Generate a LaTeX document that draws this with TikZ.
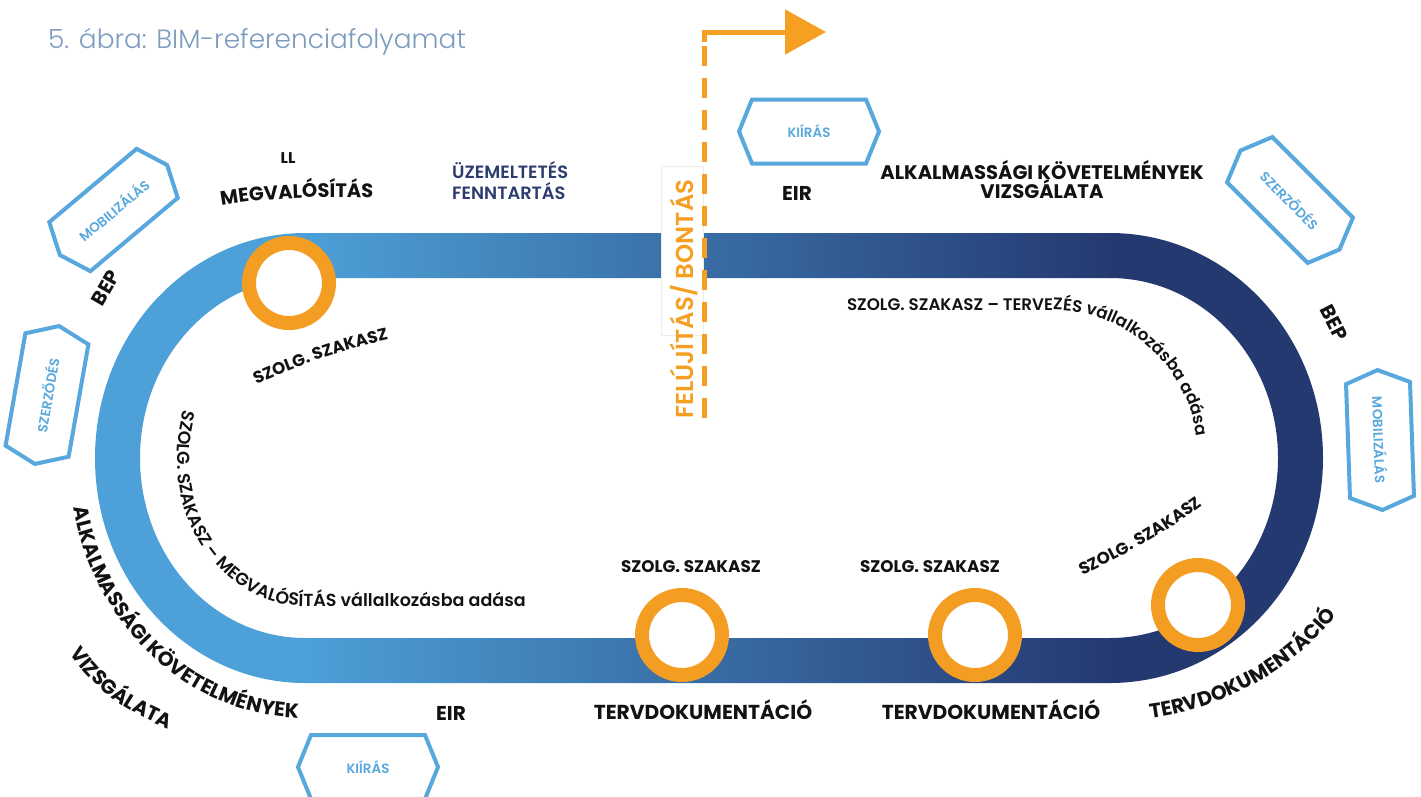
\documentclass[tikz,border=0pt]{standalone}
\usepackage{fontspec}
\usetikzlibrary{decorations.text,arrows.meta}
\IfFontExistsTF{Poppins SemiBold}{\newfontfamily\semib{Poppins SemiBold}}{\IfFontExistsTF{Poppins Bold}{\newfontfamily\semib{Poppins Bold}}{\newfontfamily\semib{Poppins}}}
\IfFontExistsTF{Poppins Bold}{\newfontfamily\boldf{Poppins Bold}}{\newfontfamily\boldf{Poppins SemiBold}}
\IfFontExistsTF{Poppins Light}{\newfontfamily\lightf{Poppins Light}}{\newfontfamily\lightf{Poppins}}
\setmainfont{Poppins}
\definecolor{bandlight}{RGB}{77,160,216}
\definecolor{banddark}{RGB}{37,57,113}
\definecolor{ringorange}{RGB}{243,157,35}
\definecolor{hexblue}{RGB}{88,168,222}
\definecolor{labcol}{RGB}{18,18,18}
\definecolor{navytext}{RGB}{44,60,112}
\definecolor{titlecol}{RGB}{124,156,192}
\definecolor{arrorange}{RGB}{245,160,35}
\newcommand\curvfontR{\semib\fontsize{16.7}{19}\selectfont\color{labcol}}
\newcommand\curvfontL{\semib\fontsize{17.5}{19}\selectfont\color{labcol}}
\newcommand\midlabfont{\boldf\fontsize{16.8}{19}\selectfont\color{labcol}}
\newcommand\biglabfont{\boldf\fontsize{19.6}{21}\selectfont\color{labcol}}
\newcommand\outerfont{\boldf\fontsize{20.2}{22}\selectfont\color{labcol}}
\newcommand\megfont{\boldf\fontsize{19.5}{21}\selectfont\color{labcol}}
\newcommand\tervfont{\boldf\fontsize{20.2}{22}\selectfont\color{labcol}}
\newcommand\hexlabel[4]{%
  \begin{scope}[shift={(#1)},rotate=#2]
    \draw[hexline] (-70,0) -- (-57,-32) -- (57,-32) -- (70,0) -- (57,32) -- (-57,32) -- cycle;
  \end{scope}
  \node[hextext,rotate=#2] (#3) at (#1) {#4};}
\begin{document}
\begin{tikzpicture}[x=1pt,y=-1pt,
  lab/.style={font=\boldf\fontsize{20}{22}\selectfont, text=labcol, inner sep=0pt},
  tervlab/.style={font=\tervfont, text=labcol, inner sep=0pt},
  smalllab/.style={font=\midlabfont, text=labcol, inner sep=0pt},
  hextext/.style={font=\semib\fontsize{13.5}{15}\selectfont, text=hexblue, inner sep=0pt},
  hexline/.style={draw=hexblue, line width=4pt, line join=miter},
  ring/.style={circle, draw=ringorange, fill=white, line width=14pt, minimum size=80pt, inner sep=0pt},
  oline/.style={draw=arrorange, line width=5pt},
]
\fill[white] (0,0) rectangle (1421,796);
\useasboundingbox (0,0) rectangle (1421,796);

% title
\node[anchor=base west, font=\lightf\fontsize{26.4}{30}\selectfont, text=titlecol, inner sep=0pt] (title) at (48,48) {5. ábra: BIM-referenciafolyamat};

% track band
\begin{scope}[even odd rule]
\clip
  (305,233) -- (1110,233) arc[start angle=270,end angle=450,x radius=213,y radius=225]
  -- (305,683) arc[start angle=90,end angle=270,x radius=210,y radius=225] -- cycle
  (305,278) -- (1110,278) arc[start angle=270,end angle=450,x radius=168,y radius=180]
  -- (305,638) arc[start angle=90,end angle=270,x radius=165,y radius=180] -- cycle;
\fill[bandlight] (60,200) rectangle (301,720);
\shade[left color=bandlight,right color=banddark] (300,200) rectangle (1111,720);
\fill[banddark] (1110,200) rectangle (1360,720);
\end{scope}

% renovation box and arrow
\fill[white, draw=black!7, line width=0.6pt] (661,166) rectangle (703,335);
\coordinate (dashbot) at (704.5,418);
\coordinate (cornerlow) at (704.5,42);
\coordinate (corner) at (704.5,32);
\coordinate (tip) at (826,32);
\draw[oline, dash pattern=on 20pt off 12pt] (dashbot) -- (cornerlow);
\draw[oline, line join=miter, -{Triangle[length=41pt,width=44pt]}] (cornerlow) -- (corner) -- (tip);
\node[rotate=90, anchor=base, font=\semib\fontsize{24.5}{27}\selectfont, text=arrorange, inner sep=0pt] (felujitas) at (693,299) {FELÚJÍTÁS/ BONTÁS};

% rings
\node[ring] (r1) at (289,283) {};
\node[ring] (r2) at (682,635) {};
\node[ring] (r3) at (975,635) {};
\node[ring] (r4) at (1198,605) {};

% hexagons
\hexlabel{809,131.5}{0}{kiirastop}{KIÍRÁS}
\hexlabel{368,767}{0}{kiirasbot}{KIÍRÁS}
\hexlabel{113.5,210}{40}{mobleft}{MOBILIZÁLÁS}
\hexlabel{47,395}{80}{szerzleft}{SZERZŐDÉS}
\hexlabel{1290,200}{-45}{szerzright}{SZERZŐDÉS}
\hexlabel{1380,440}{-88}{mobright}{MOBILIZÁLÁS}

% straight labels
\node[font=\boldf\fontsize{15.5}{17}\selectfont, text=labcol, inner sep=0pt, anchor=base] (ll) at (288,163) {LL};
\node[font=\semib\fontsize{17.8}{19}\selectfont, text=navytext, inner sep=0pt, anchor=base west] (uzem1) at (452,178) {ÜZEMELTETÉS};
\node[font=\semib\fontsize{17.8}{19}\selectfont, text=navytext, inner sep=0pt, anchor=base west] (uzem2) at (452,199) {FENNTARTÁS};
\node[lab, anchor=base] (eirtop) at (797,200) {EIR};
\node[lab, font=\biglabfont, anchor=base] (alktop1) at (1042,179) {ALKALMASSÁGI KÖVETELMÉNYEK};
\node[lab, font=\biglabfont, anchor=base] (alktop2) at (1042,198) {VIZSGÁLATA};
\node[lab, rotate=60] (bepleft) at (106,288) {BEP};
\node[lab, rotate=-63] (bepright) at (1334,323) {BEP};
\node[lab, anchor=base] (eirbot) at (451,720) {EIR};
\node[tervlab, anchor=base] (terv2) at (703,719) {TERVDOKUMENTÁCIÓ};
\node[tervlab, anchor=base] (terv3) at (991,719) {TERVDOKUMENTÁCIÓ};
\node[smalllab, anchor=base] (szolg2) at (691,572) {SZOLG. SZAKASZ};
\node[smalllab, anchor=base] (szolg3) at (930,572) {SZOLG. SZAKASZ};

% curved labels
\path[decorate, decoration={text along path, text align=center,
  text={|\megfont|MEGVALÓSÍTÁS}}]
  (200,210) .. controls (260,196) and (330,196) .. (395,199);
\path[decorate, decoration={text along path, text align=center,
  text={|\midlabfont|SZOLG. SZAKASZ}}]
  (244,390) .. controls (292,367) and (348,347) .. (402,337);
\path[decorate, decoration={text along path,
  text={|\curvfontR|SZOLG. SZAKASZ – TERVEZÉS vállalkozásba adása}}]
  (847,310) -- (1052,310) arc[start angle=270,end angle=380,radius=146];
\path[decorate, decoration={text along path,
  text={|\curvfontL|SZOLG. SZAKASZ – MEGVALÓSÍTÁS vállalkozásba adása}}]
  (184,410) arc[start angle=199,end angle=90,x radius=128,y radius=148] -- (590,606);
\path[decorate, decoration={text along path, text align=center,
  text={|\midlabfont|SZOLG. SZAKASZ}}]
  (1064,584) .. controls (1118,560) and (1172,530) .. (1219,493);
\path[decorate, decoration={text along path, text align=center,
  text={|\tervfont|TERVDOKUMENTÁCIÓ}}]
  (1110,721) arc[start angle=90,end angle=28,x radius=283,y radius=263];
\path[decorate, decoration={text along path,
  text={|\outerfont|ALKALMASSÁGI KÖVETELMÉNYEK}}]
  (73.3,507.6) arc[start angle=169,end angle=65,x radius=236,y radius=260];
\path[decorate, decoration={text along path, text align=center,
  text={|\outerfont|VIZSGÁLATA}}]
  (58,636) .. controls (90,690) and (130,716) .. (188,736);
\end{tikzpicture}
\end{document}
